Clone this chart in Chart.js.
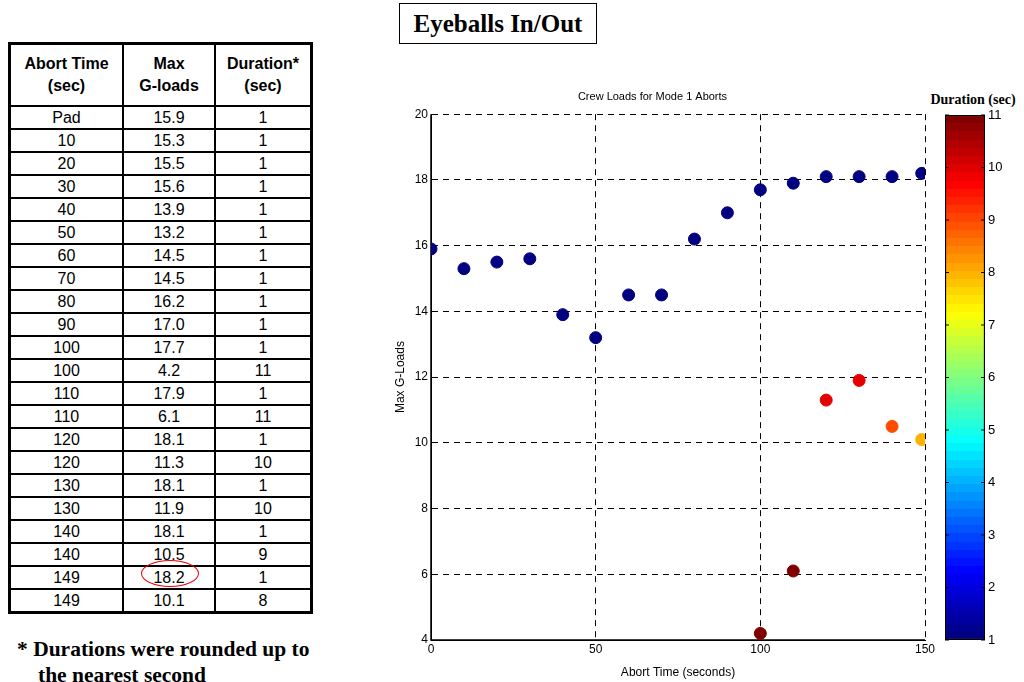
<!DOCTYPE html>
<html>
<head>
<meta charset="utf-8">
<script src="https://cdn.jsdelivr.net/npm/chart.js@4.4.0/dist/chart.umd.min.js"></script>
<style>
  body { margin: 0; width: 1024px; height: 682px; background: #fff; position: relative; overflow: hidden; }
  #tbl { position: absolute; left: 8px; top: 42px; border-collapse: collapse; font-family: "Liberation Sans", Arial, sans-serif; font-size: 16px; border: 3px solid #000; }
  #tbl td, #tbl th { border: 2px solid #000; text-align: center; padding: 0; height: 21px; line-height: 18px; }
  #tbl th { height: 60px; font-weight: bold; font-size: 16px; line-height: 22px; }
  #note { position: absolute; left: 17px; top: 636px; font-family: "Liberation Serif", "Times New Roman", serif; font-weight: bold; font-size: 21.5px; line-height: 26px; }
  #note span { padding-left: 21px; }
  #ttl { position: absolute; left: 399px; top: 3px; width: 196px; height: 39px; border: 1px solid #000; font-family: "Liberation Serif", "Times New Roman", serif; font-weight: bold; font-size: 25px; line-height: 40px; text-align: center; }
  #cbt { position: absolute; left: 915px; top: 92px; width: 116px; text-align: center; font-family: "Liberation Serif", "Times New Roman", serif; font-weight: bold; font-size: 14px; }
  #ring { position: absolute; left: 141px; top: 560px; width: 56px; height: 25px; border: 1px solid #e00; border-radius: 50%; }
  #main { position: absolute; left: 380px; top: 80px; }
  #bar { position: absolute; left: 940px; top: 80px; }
</style>
</head>
<body>
<table id="tbl"></table>
<div id="ring"></div>
<div id="note">* Durations were rounded up to<br><span>the nearest second</span></div>
<div id="ttl">Eyeballs In/Out</div>
<div id="cbt">Duration (sec)</div>
<canvas id="main" width="560" height="602"></canvas>
<canvas id="bar" width="84" height="602"></canvas>
<script>
const abortLabels = ['Pad','10','20','30','40','50','60','70','80','90','100','100','110','110','120','120','130','130','140','140','149','149'];
const abortTimes = [0,10,20,30,40,50,60,70,80,90,100,100,110,110,120,120,130,130,140,140,149,149];
const gLoads = [15.9,15.3,15.5,15.6,13.9,13.2,14.5,14.5,16.2,17.0,17.7,4.2,17.9,6.1,18.1,11.3,18.1,11.9,18.1,10.5,18.2,10.1];
const durations = [1,1,1,1,1,1,1,1,1,1,1,11,1,11,1,10,1,10,1,9,1,8];
const xTicks = [0,50,100,150];
const durMin = 1, durMax = 11;

// table
const tbl = document.getElementById('tbl');
let html = '<tr><th style="width:111px">Abort Time<br>(sec)</th><th style="width:90px">Max<br>G-loads</th><th style="width:94px">Duration*<br>(sec)</th></tr>';
abortLabels.forEach((a, i) => {
  html += '<tr><td>' + a + '</td><td>' + gLoads[i].toFixed(1) + '</td><td>' + durations[i] + '</td></tr>';
});
tbl.innerHTML = html;

function jet(t) {
  const c = v => Math.round(255 * Math.max(0, Math.min(1, v)));
  return 'rgb(' + c(1.5 - Math.abs(4 * t - 3)) + ',' + c(1.5 - Math.abs(4 * t - 2)) + ',' + c(1.5 - Math.abs(4 * t - 1)) + ')';
}
const pointColors = durations.map(d => jet((d - durMin) / (durMax - durMin)));

const font = { family: '"Liberation Sans", Arial, sans-serif', size: 12 };

new Chart(document.getElementById('main'), {
  type: 'scatter',
  data: {
    datasets: [{
      data: abortTimes.map((x, i) => ({ x: x, y: gLoads[i] })),
      backgroundColor: pointColors,
      borderColor: pointColors,
      pointRadius: 6,
      pointHoverRadius: 6
    }]
  },
  options: {
    responsive: false,
    animation: false,
    layout: { padding: { right: 15 } },
    plugins: {
      legend: { display: false },
      tooltip: { enabled: false },
      title: { display: true, text: 'Crew Loads for Mode 1 Aborts', color: '#000', font: { family: font.family, size: 11, weight: 'normal' }, padding: { top: 10, bottom: 11 } }
    },
    scales: {
      x: {
        type: 'linear', min: 0, max: 150,
        afterBuildTicks: s => { s.ticks = xTicks.map(v => ({ value: v })); },
        ticks: { color: '#000', font: font, padding: 2 },
        grid: { color: '#000', drawTicks: false },
        border: { display: true, color: '#000', width: 1, dash: [6, 5] },
        title: { display: true, text: 'Abort Time (seconds)', color: '#000', font: font, padding: 2 },
        afterFit: s => { s.height = 42; }
      },
      y: {
        min: 4, max: 20,
        ticks: { stepSize: 2, color: '#000', font: font, padding: 3 },
        grid: { color: '#000', drawTicks: false },
        border: { display: true, color: '#000', width: 1, dash: [6, 5] },
        title: { display: true, text: 'Max G-Loads', color: '#000', font: font, padding: { top: 13, bottom: 0 } },
        afterFit: s => { s.width = 51; }
      }
    }
  },
  plugins: [{
    id: 'axes',
    beforeDatasetsDraw(chart) {
      const { ctx, chartArea: a } = chart;
      ctx.save();
      ctx.strokeStyle = '#000';
      ctx.lineWidth = 1.5;
      ctx.beginPath();
      ctx.moveTo(a.left, a.top);
      ctx.lineTo(a.left, a.bottom);
      ctx.lineTo(a.right, a.bottom);
      ctx.stroke();
      ctx.restore();
    }
  }]
});

new Chart(document.getElementById('bar'), {
  type: 'bar',
  data: {
    labels: ['d'],
    datasets: [{
      data: [[durMin, durMax]],
      backgroundColor: ctx => {
        const a = ctx.chart.chartArea;
        if (!a) return '#000';
        const g = ctx.chart.ctx.createLinearGradient(0, a.bottom, 0, a.top);
        const n = 64;
        for (let i = 0; i < n; i++) {
          const col = jet(i / (n - 1));
          g.addColorStop(i / n, col);
          g.addColorStop((i + 1) / n, col);
        }
        return g;
      },
      borderColor: '#000',
      borderWidth: 1.5,
      borderSkipped: false,
      barPercentage: 1,
      categoryPercentage: 1
    }]
  },
  options: {
    responsive: false,
    animation: false,
    layout: { padding: { left: 5, top: 35, bottom: 42 } },
    plugins: { legend: { display: false }, tooltip: { enabled: false } },
    scales: {
      x: { display: false },
      y: {
        position: 'right', min: durMin, max: durMax,
        ticks: { stepSize: 1, color: '#000', font: { family: font.family, size: 13 }, padding: 3 },
        grid: { display: false, drawTicks: false },
        border: { display: false },
        afterFit: s => { s.width = 39; }
      }
    }
  },
  plugins: [{
    id: 'cbticks',
    afterDatasetsDraw(chart) {
      const { ctx, chartArea: a } = chart;
      const y = chart.scales.y;
      ctx.save();
      ctx.strokeStyle = '#000';
      ctx.lineWidth = 1;
      y.ticks.forEach(t => {
        const py = y.getPixelForValue(t.value);
        ctx.beginPath();
        ctx.moveTo(a.left, py); ctx.lineTo(a.left + 4, py);
        ctx.moveTo(a.right, py); ctx.lineTo(a.right - 4, py);
        ctx.stroke();
      });
      ctx.restore();
    }
  }]
});
</script>
</body>
</html>
